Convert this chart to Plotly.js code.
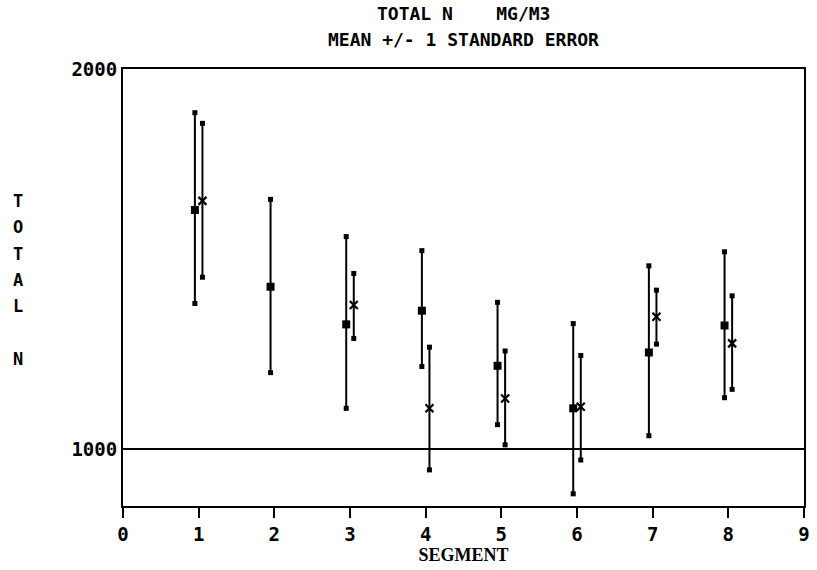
<!DOCTYPE html>
<html>
<head>
<meta charset="utf-8">
<script src="https://cdn.plot.ly/plotly-3.0.1.min.js"></script>
<style>html,body{margin:0;padding:0;background:#fff;}#chart{width:817px;height:570px;}</style>
</head>
<body>
<div id="chart"></div>
<script>
// ---- data ----
const segments      = [1, 2, 3, 4, 5, 6, 7, 8];
const squareMean    = [1629, 1427, 1328, 1364, 1219, 1107, 1254, 1325];
const squareUpper   = [1885, 1657, 1559, 1522, 1386, 1330, 1482, 1519];
const squareLower   = [1383, 1201, 1107, 1217, 1064,  882, 1035, 1135];

const crossSegments = [1, 3, 4, 5, 6, 7, 8];
const crossMean     = [1653, 1379, 1107, 1133, 1111, 1348, 1278];
const crossUpper    = [1857, 1462, 1268, 1258, 1246, 1418, 1403];
const crossLower    = [1452, 1291,  945, 1011,  971, 1276, 1157];

const xTickVals  = [0, 1, 2, 3, 4, 5, 6, 7, 8, 9];
const yTickVals  = [1000, 2000];
const yTickText  = ['1000', '2000'];
const refValue   = 1000;

const titleLine1 = 'TOTAL N&nbsp;&nbsp;&nbsp;&nbsp;MG/M3';
const titleLine2 = 'MEAN +/- 1 STANDARD ERROR';
const xTitle     = 'SEGMENT';
const yTitle     = 'TOTAL N';

// ---- styling ----
const MONO = '"DejaVu Sans Mono", "Liberation Mono", monospace';
const OFFSET = 0.05;

function seriesTraces(xs, mean, upper, lower, sym, sz, shift) {
  const xp = xs.map(v => v + shift);
  const isCross = sym !== 'square';
  const main = {
    type: 'scatter', mode: 'markers', x: xp, y: mean,
    marker: {symbol: sym, size: sz, color: '#000', line: {color: '#000', width: isCross ? 2.2 : 0}},
    error_y: {type: 'data', symmetric: false,
      array: upper.map((u, i) => u - mean[i]),
      arrayminus: lower.map((l, i) => mean[i] - l),
      thickness: 2, width: 0, color: '#000'},
    showlegend: false, hoverinfo: 'skip'
  };
  const caps = {
    type: 'scatter', mode: 'markers',
    x: xp.concat(xp), y: upper.concat(lower),
    marker: {symbol: 'square', size: 5, color: '#000'},
    showlegend: false, hoverinfo: 'skip'
  };
  return [main, caps];
}

const data = [].concat(
  seriesTraces(segments, squareMean, squareUpper, squareLower, 'square', 8, -OFFSET),
  seriesTraces(crossSegments, crossMean, crossUpper, crossLower, 'x-thin-open', 8, OFFSET)
);

const annotations = [
  {text: titleLine1, xref: 'paper', yref: 'paper', x: 0.5, y: 1.126, xanchor: 'center', yanchor: 'middle',
   showarrow: false, font: {family: MONO, size: 18, color: '#000', weight: 'bold'}},
  {text: titleLine2, xref: 'paper', yref: 'paper', x: 0.5, y: 1.068, xanchor: 'center', yanchor: 'middle',
   showarrow: false, font: {family: MONO, size: 18, color: '#000', weight: 'bold'}}
];
// vertical stacked y-axis title, one letter per line
const plotTop = 69, plotBottom = 506, plotH = plotBottom - plotTop;
yTitle.split('').forEach((ch, i) => {
  if (ch === ' ') return;
  const py = 201 + i * 26.3;
  annotations.push({text: ch, xref: 'paper', yref: 'paper', x: -0.154, y: (plotBottom - py) / plotH,
    xanchor: 'center', yanchor: 'middle', showarrow: false,
    font: {family: MONO, size: 17, color: '#000', weight: 'bold'}});
});

const layout = {
  width: 817, height: 570,
  margin: {l: 123, r: 13, t: 69, b: 64},
  paper_bgcolor: '#fff', plot_bgcolor: '#fff',
  showlegend: false,
  xaxis: {
    range: [0, 9], tickvals: xTickVals, ticktext: xTickVals.map(String),
    ticks: 'outside', ticklen: 10, tickwidth: 2, tickcolor: '#000',
    showline: true, linewidth: 2, linecolor: '#000', mirror: true,
    showgrid: false, zeroline: false,
    tickfont: {family: MONO, size: 19, color: '#000', weight: 'bold'},
    title: {text: xTitle, standoff: 4, font: {family: '"Liberation Serif", serif', size: 18, color: '#000', weight: 'bold'}}
  },
  yaxis: {
    range: [850, 2000], tickvals: yTickVals, ticktext: yTickText,
    ticks: '', showline: true, linewidth: 2, linecolor: '#000', mirror: true,
    showgrid: false, zeroline: false, ticklabelstandoff: 0,
    tickfont: {family: MONO, size: 19, color: '#000', weight: 'bold'}
  },
  shapes: [
    {type: 'line', xref: 'paper', x0: 0, x1: 1, yref: 'y', y0: refValue, y1: refValue,
     line: {color: '#000', width: 2}}
  ],
  annotations: annotations
};

Plotly.newPlot('chart', data, layout, {displayModeBar: false, staticPlot: true});
</script>
</body>
</html>
